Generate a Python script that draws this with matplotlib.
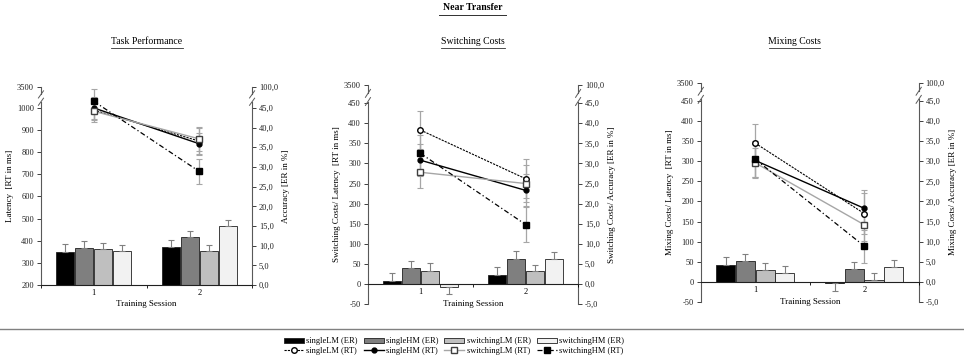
import matplotlib
matplotlib.use("Agg")
import matplotlib.pyplot as plt
from matplotlib.patches import Patch
from matplotlib.lines import Line2D
import numpy as np

plt.rcParams['font.family'] = ['Liberation Serif', 'DejaVu Serif']
plt.rcParams['font.size'] = 6

sessions = [1, 2]
series = ["singleLM", "singleHM", "switchingLM", "switchingHM"]

# ---- Task Performance ----
tp_er = [[8.4, 9.6], [9.45, 12.1], [9.1, 8.55], [8.55, 14.9]]
tp_er_err = [[2.0, 1.85], [1.7, 1.6], [1.7, 1.6], [1.5, 1.6]]
tp_rt = [[990, 850], [1000, 838], [985, 860], [1030, 713]]
tp_rt_err = [[45, 60], [50, 50], [50, 55], [55, 55]]

# ---- Switching Costs ----
sc_er = [[0.8, 2.2], [4.0, 6.3], [3.3, 3.2], [-0.7, 6.2]]
sc_er_err = [[2.0, 2.0], [1.8, 1.9], [1.9, 1.6], [1.8, 1.8]]
sc_rt = [[383, 262], [308, 233], [278, 250], [325, 148]]
sc_rt_err = [[48, 48], [40, 40], [40, 45], [45, 43]]

# ---- Mixing Costs ----
mc_er = [[4.3, -0.2], [5.3, 3.2], [3.0, 0.5], [2.3, 3.8]]
mc_er_err = [[1.9, 2.0], [1.7, 1.8], [1.6, 1.6], [1.7, 1.7]]
mc_rt = [[345, 170], [302, 183], [296, 142], [305, 89]]
mc_rt_err = [[48, 50], [40, 45], [38, 40], [45, 41]]

bar_colors = ["#000000", "#7f7f7f", "#bfbfbf", "#f2f2f2"]
line_styles = [
    dict(color="black", ls=(0, (2, 1)), lw=0.8, marker="o", mfc="white", mec="black", ms=4),
    dict(color="black", ls="-", lw=1.0, marker="o", mfc="black", mec="black", ms=3.5),
    dict(color="#a6a6a6", ls="-", lw=1.0, marker="s", mfc="white", mec="#404040", ms=4),
    dict(color="black", ls=(0, (4, 2, 1, 2)), lw=0.9, marker="s", mfc="black", mec="black", ms=4.5),
]
offsets = [-0.27, -0.09, 0.09, 0.27]
spine_col = "#595959"


def panel(rect, er, er_err, rt, rt_err, rt_lim, rt_ticks, er_ticks, ylab, ylab2):
    ax = fig.add_axes(rect)
    ax2 = ax.twinx()
    x = np.array(sessions, dtype=float)
    for i in range(4):
        ax2.bar(x + offsets[i], er[i], width=0.175, color=bar_colors[i],
                edgecolor="#202020", linewidth=0.6, zorder=2)
        lo = [0 if v >= 0 else e for v, e in zip(er[i], er_err[i])]
        hi = [e if v >= 0 else 0 for v, e in zip(er[i], er_err[i])]
        ax2.errorbar(x + offsets[i], er[i], yerr=[lo, hi], fmt="none",
                     ecolor="#808080", elinewidth=0.8, capsize=2, capthick=0.8, zorder=3)
    for i in range(4):
        ax.errorbar(x, rt[i], yerr=rt_err[i], fmt="none", ecolor="#a6a6a6",
                    elinewidth=0.9, capsize=2, capthick=0.8, zorder=2)
    for i in range(4):
        ax.plot(x, rt[i], zorder=4, **line_styles[i])

    ax.set_zorder(ax2.get_zorder() + 1)
    ax.patch.set_visible(False)

    lo_rt, top_rt = rt_lim
    ax.set_xlim(0.5, 2.5)
    ax.set_ylim(lo_rt, top_rt)
    ax.set_yticks(rt_ticks + [top_rt])
    ax.set_yticklabels([str(t) for t in rt_ticks] + ["3500"])
    # ER axis on the same scale as the RT axis
    er_lo = er_ticks[0]
    scale = (er_ticks[-1] - er_ticks[0]) / (rt_ticks[-1] - rt_ticks[0])
    er_top = er_lo + (top_rt - lo_rt) * scale
    ax2.set_ylim(er_lo, er_top)
    ax2.set_yticks(er_ticks + [er_top])
    ax2.set_yticklabels([f"{t:.1f}".replace(".", ",") for t in er_ticks] + ["100,0"])

    for a in (ax, ax2):
        a.spines["top"].set_visible(False)
        a.tick_params(axis="y", direction="out", length=3, width=0.6, colors="#202020",
                      pad=2, labelsize=6)
        a.spines["left"].set_color(spine_col)
        a.spines["right"].set_color(spine_col)
        a.spines["left"].set_linewidth(0.8)
        a.spines["right"].set_linewidth(0.8)
    ax2.spines["bottom"].set_visible(False)
    ax.spines["right"].set_visible(False)
    ax2.spines["left"].set_visible(False)

    # axis breaks
    gap_lo, gap_hi = 0.925, 0.962
    ax.spines["left"].set_bounds(lo_rt, lo_rt + (top_rt - lo_rt) * gap_lo)
    ax2.spines["right"].set_bounds(er_lo, er_lo + (er_top - er_lo) * gap_lo)
    for xs in (0, 1):
        ax.plot([xs, xs], [gap_hi, 1.0], transform=ax.transAxes, color=spine_col,
                lw=0.8, clip_on=False)
        for yc in (gap_lo, gap_hi):
            ax.plot([xs - 0.012, xs + 0.012], [yc - 0.018, yc + 0.018],
                    transform=ax.transAxes, color=spine_col, lw=0.7, clip_on=False)

    # category axis
    ax.spines["bottom"].set_position(("data", 0 if lo_rt < 0 else lo_rt))
    ax.spines["bottom"].set_color("#202020")
    ax.spines["bottom"].set_linewidth(0.8)
    ax.set_xticks([0.5, 1.5, 2.5])
    ax.set_xticklabels([])
    ax.set_xticks(sessions, minor=True)
    ax.set_xticklabels([str(s) for s in sessions], minor=True)
    ax.tick_params(axis="x", which="major", direction="out", length=2.5, width=0.6)
    ax.tick_params(axis="x", which="minor", length=0, pad=3, labelsize=6)
    ax.set_xlabel("Training Session", fontsize=6.5, labelpad=2)
    if lo_rt < 0:
        ax.xaxis.set_label_coords(0.5, 0.02)
    ax.set_ylabel(ylab, fontsize=6.5, labelpad=2)
    ax2.set_ylabel(ylab2, fontsize=6.5, rotation=90, labelpad=3)
    return ax


fig = plt.figure(figsize=(9.64, 3.59), dpi=100)

panel([0.0425, 0.206, 0.219, 0.552], tp_er, tp_er_err, tp_rt, tp_rt_err,
      (200, 1095), list(range(200, 1001, 100)), [i * 5.0 for i in range(10)],
      "Latency  [RT in ms]", "Accuracy [ER in %]")
panel([0.3817, 0.153, 0.218, 0.610], sc_er, sc_er_err, sc_rt, sc_rt_err,
      (-50, 495), list(range(-50, 451, 50)), [-5.0 + i * 5.0 for i in range(11)],
      "Switching Costs/ Latency  [RT in ms]", "Switching Costs/ Accuracy [ER in %]")
panel([0.727, 0.159, 0.226, 0.610], mc_er, mc_er_err, mc_rt, mc_rt_err,
      (-50, 495), list(range(-50, 451, 50)), [-5.0 + i * 5.0 for i in range(11)],
      "Mixing Costs/ Latency  [RT in ms]", "Mixing Costs/ Accuracy [ER in %]")

# titles
fig.text(0.490, 0.978, "Near Transfer", ha="center", va="center", fontsize=7,
         fontweight="bold")
fig.add_artist(Line2D([0.455, 0.525], [0.958, 0.958], color="#303030", lw=0.7))
for xc, t, w in [(0.1525, "Task Performance", 0.075), (0.4906, "Switching Costs", 0.066),
                 (0.8237, "Mixing Costs", 0.053)]:
    fig.text(xc, 0.885, t, ha="center", va="center", fontsize=7)
    fig.add_artist(Line2D([xc - w / 2, xc + w / 2], [0.866, 0.866], color="#303030", lw=0.6))

# divider and legend
fig.add_artist(Line2D([0, 1], [0.0836, 0.0836], color="#808080", lw=1.0))
handles = []
labels = []
for i, s in enumerate(series):
    handles.append(Patch(facecolor=bar_colors[i], edgecolor="#202020", linewidth=0.6))
    labels.append(f"{s} (ER)")
    handles.append(Line2D([], [], **line_styles[i]))
    labels.append(f"{s} (RT)")
fig.legend(handles, labels, ncol=4, loc="center", bbox_to_anchor=(0.471, 0.036),
           frameon=False, fontsize=6, handlelength=2.4, handleheight=0.6,
           columnspacing=0.7, handletextpad=0.3, labelspacing=0.15, borderpad=0)

fig.savefig("out.png", dpi=100)
